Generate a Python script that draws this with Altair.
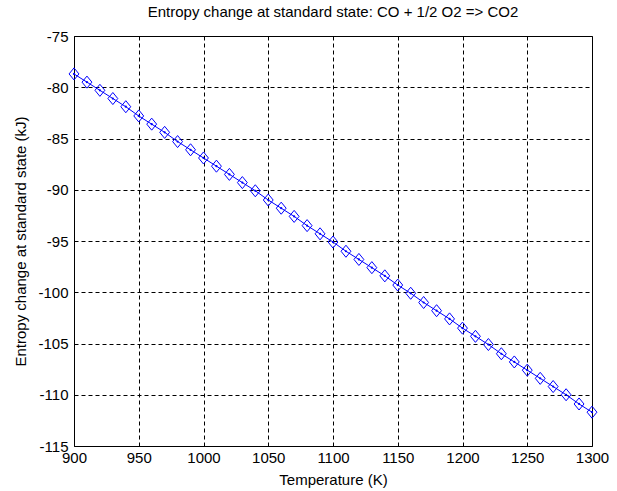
import altair as alt
import pandas as pd

# Temperature grid (K) and the reaction's entropy change (kJ) at each step
temperature = list(range(900, 1301, 10))
entropy_change = [
    -78.7, -79.5, -80.3, -81.1, -81.9, -82.8, -83.6, -84.4, -85.3, -86.1,
    -86.9, -87.7, -88.5, -89.3, -90.1, -91.0, -91.8, -92.6, -93.5, -94.3,
    -95.1, -96.0, -96.8, -97.6, -98.4, -99.3, -100.1, -101.0, -101.8, -102.6,
    -103.5, -104.3, -105.1, -106.0, -106.8, -107.6, -108.4, -109.2, -110.0,
    -110.9, -111.7,
]
x_ticks = [900, 950, 1000, 1050, 1100, 1150, 1200, 1250, 1300]
y_ticks = [-115, -110, -105, -100, -95, -90, -85, -80, -75]

df = pd.DataFrame({"T": temperature, "dS": entropy_change})

FONT = "Liberation Sans"
BLUE = "#0000ff"
# plain hyphen-minus labels instead of the typographic minus sign
PLAIN_LABEL = "'' + datum.value"

x_enc = alt.X(
    "T:Q",
    scale=alt.Scale(domain=[900, 1300], nice=False, zero=False),
    axis=alt.Axis(
        values=x_ticks, title="Temperature (K)", labelExpr=PLAIN_LABEL,
        grid=True, gridColor="black", gridDash=[4, 3], gridWidth=1, gridOpacity=1,
        ticks=False, domain=False, labelPadding=4, labelFlush=False,
        labelFont=FONT, labelFontSize=15, labelColor="black",
        titleFont=FONT, titleFontSize=15, titleFontWeight="normal", titleColor="black",
        titleX=259, titleY=33, titleBaseline="middle", titleAnchor="middle",
    ),
)
y_enc = alt.Y(
    "dS:Q",
    scale=alt.Scale(domain=[-115, -75], nice=False, zero=False),
    axis=alt.Axis(
        values=y_ticks, title="Entropy change at standard state (kJ)",
        labelExpr=PLAIN_LABEL,
        grid=True, gridColor="black", gridDash=[4, 3], gridWidth=1, gridOpacity=1,
        ticks=False, domain=False, labelPadding=6, labelFlush=False,
        labelFont=FONT, labelFontSize=15, labelColor="black",
        titleFont=FONT, titleFontSize=15, titleFontWeight="normal", titleColor="black",
        titleX=-54, titleY=205, titleAngle=270, titleBaseline="middle",
        titleAlign="center",
    ),
)

line = alt.Chart(df).mark_line(color=BLUE, strokeWidth=1).encode(x=x_enc, y=y_enc)
dots = alt.Chart(df).mark_point(
    shape="circle", filled=True, color=BLUE, size=5, opacity=1
).encode(x="T:Q", y="dS:Q")
diamonds = alt.Chart(df).mark_point(
    shape="M0,-1.1L0.9,0L0,1.1L-0.9,0Z", filled=False, color=BLUE,
    strokeWidth=1, size=120, opacity=1,
).encode(x="T:Q", y="dS:Q")

chart = (
    alt.layer(line, dots, diamonds)
    .properties(
        width=518,
        height=410,
        autosize="none",
        padding={"left": 74, "top": 36, "right": 25, "bottom": 45},
        background="white",
        title=alt.TitleParams(
            "Entropy change at standard state: CO + 1/2 O2 => CO2",
            font=FONT, fontSize=15, fontWeight="normal", color="black",
            anchor="middle", offset=9,
        ),
    )
    .configure_view(stroke="black", strokeWidth=1)
)

chart.save("out.html", embed_options={"renderer": "svg", "actions": False})
